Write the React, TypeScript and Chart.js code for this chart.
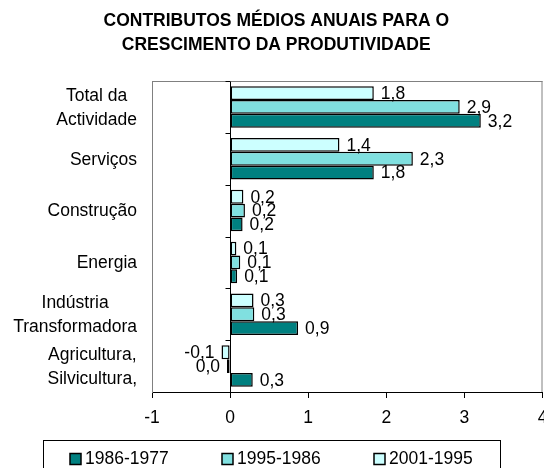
import React, { useEffect, useRef } from "react";
import { Chart, registerables } from "chart.js";

Chart.register(...registerables);

const FONT = "'Liberation Sans', Arial, Helvetica, sans-serif";

const titleLines = ["CONTRIBUTOS MÉDIOS ANUAIS PARA O", "CRESCIMENTO DA PRODUTIVIDADE"];

const categories: string[][] = [
  ["Total da", "Actividade"],
  ["Serviços"],
  ["Construção"],
  ["Energia"],
  ["Indústria", "Transformadora"],
  ["Agricultura,", "Silvicultura,"],
];

const seriesNames = ["1986-1977", "1995-1986", "2001-1995"];
const values1986_1977 = [3.21, 1.84, 0.16, 0.09, 0.87, 0.29];
const values1995_1986 = [2.94, 2.34, 0.19, 0.13, 0.31, -0.04];
const values2001_1995 = [1.84, 1.4, 0.17, 0.08, 0.3, -0.11];
const seriesColors = ["#008080", "#80E0E0", "#CCFFFF"];

const xTicks = [-1, 0, 1, 2, 3, 4];

function fmt(v: number): string {
  let s = v.toFixed(1);
  if (s === "-0.0") s = "0.0";
  return s.replace(".", ",");
}

const decorPlugin = {
  id: "decor",
  afterLayout(chart: any) {
    const t = chart.titleBlock;
    if (t) {
      t.left += 5;
      t.right += 5;
    }
  },
  beforeDatasetsDraw(chart: any) {
    const { ctx, chartArea: a, scales } = chart;
    const x = scales.x;
    const y = scales.y;
    ctx.save();
    ctx.strokeStyle = "#808080";
    ctx.lineWidth = 1;
    ctx.beginPath();
    ctx.moveTo(a.left, a.top + 0.5);
    ctx.lineTo(a.right, a.top + 0.5);
    ctx.moveTo(a.right - 0.5, a.top);
    ctx.lineTo(a.right - 0.5, a.bottom);
    ctx.stroke();
    const x0 = Math.round(x.getPixelForValue(0)) + 0.5;
    ctx.strokeStyle = "#000";
    ctx.beginPath();
    for (let i = 0; i <= categories.length; i++) {
      const yy = Math.round(y.getPixelForValue(i - 0.5)) + 0.5;
      ctx.moveTo(x0 - 5, yy);
      ctx.lineTo(x0, yy);
    }
    ctx.stroke();
    ctx.restore();
  },
  afterDatasetsDraw(chart: any) {
    const { ctx } = chart;
    ctx.save();
    ctx.font = `17.5px ${FONT}`;
    ctx.fillStyle = "#000";
    ctx.textBaseline = "middle";
    chart.data.datasets.forEach((ds: any, di: number) => {
      const meta = chart.getDatasetMeta(di);
      meta.data.forEach((el: any, i: number) => {
        const v = ds.data[i] as number;
        const txt = fmt(v);
        if (v >= 0) {
          ctx.textAlign = "left";
          ctx.fillText(txt, Math.max(el.x, el.base) + 7, el.y + 1);
        } else {
          ctx.textAlign = "right";
          ctx.fillText(txt, Math.min(el.x, el.base) - 7, el.y + 1);
        }
      });
    });
    ctx.restore();
  },
  afterDraw(chart: any) {
    const { ctx, chartArea: a, scales } = chart;
    const y = scales.y;
    ctx.save();
    ctx.font = `17.5px ${FONT}`;
    ctx.fillStyle = "#000";
    ctx.textBaseline = "middle";
    ctx.textAlign = "center";
    const rightEdge = a.left - 15;
    const lh = 24;
    categories.forEach((lines, i) => {
      const cy = y.getPixelForValue(i);
      const w = Math.max(...lines.map((l) => ctx.measureText(l).width));
      const cx = rightEdge - w / 2;
      const startY = cy - ((lines.length - 1) * lh) / 2;
      lines.forEach((l, k) => ctx.fillText(l, cx, startY + k * lh + 1));
    });
    ctx.strokeStyle = "#000";
    ctx.lineWidth = 1;
    ctx.strokeRect(43.5, 440.5, 457, 40);
    const order = [2, 1, 0];
    ctx.textAlign = "left";
    order.forEach((di, k) => {
      const ds = chart.data.datasets[di];
      const mx = 70 + k * 152;
      ctx.fillStyle = ds.backgroundColor;
      ctx.fillRect(mx, 453.5, 11, 11);
      ctx.lineWidth = 1.5;
      ctx.strokeRect(mx, 453.5, 11, 11);
      ctx.fillStyle = "#000";
      ctx.fillText(ds.label, mx + 15, 459.5);
    });
    ctx.restore();
  },
};

export default function App() {
  const ref = useRef<HTMLCanvasElement>(null);
  useEffect(() => {
    if (!ref.current) return;
    const chart = new Chart(ref.current, {
      type: "bar",
      data: {
        labels: categories.map((c) => c.join(" ")),
        datasets: [
          { label: seriesNames[2], data: values2001_1995, backgroundColor: seriesColors[2] },
          { label: seriesNames[1], data: values1995_1986, backgroundColor: seriesColors[1] },
          { label: seriesNames[0], data: values1986_1977, backgroundColor: seriesColors[0] },
        ].map((d) => ({
          ...d,
          borderColor: "#000",
          borderWidth: 1.5,
          borderSkipped: false,
          barPercentage: 1,
          categoryPercentage: 0.8,
        })),
      },
      options: {
        indexAxis: "y",
        responsive: false,
        animation: false,
        devicePixelRatio: 1,
        layout: { padding: { left: 0, right: 1.5, top: 0, bottom: 36 } },
        plugins: {
          legend: { display: false },
          tooltip: { enabled: false },
          title: {
            display: true,
            text: titleLines,
            color: "#000",
            font: { family: FONT, size: 17.5, weight: "bold", lineHeight: 24 / 17.5 },
            padding: { top: 9, bottom: 24 },
          },
        },
        scales: {
          x: {
            type: "linear",
            min: -1,
            max: 4,
            afterBuildTicks: (s: any) => {
              s.ticks = xTicks.map((v) => ({ value: v }));
            },
            afterFit: (s: any) => {
              s.height = 40;
              s.paddingRight = 0;
              s.paddingLeft = 0;
            },
            ticks: {
              color: "#000",
              font: { family: FONT, size: 17.5 },
              padding: 10,
              maxRotation: 0,
              autoSkip: false,
            },
            grid: {
              display: true,
              drawOnChartArea: true,
              color: (c: any) => (c.tick && c.tick.value === 0 ? "#000" : "rgba(0,0,0,0)"),
              tickColor: "#000",
              tickLength: 6,
              lineWidth: 1,
            },
            border: { display: true, color: "#000", width: 1 },
          },
          y: {
            type: "category",
            ticks: { display: false },
            grid: { display: false },
            border: { display: true, color: "#808080", width: 1 },
            afterFit: (s: any) => {
              s.width = 152;
            },
          },
        },
      },
      plugins: [decorPlugin],
    });
    return () => chart.destroy();
  }, []);
  return (
    <div style={{ position: "absolute", left: 0, top: 0, width: 544, height: 468, background: "#fff" }}>
      <canvas ref={ref} width={544} height={468} style={{ display: "block" }} />
    </div>
  );
}
